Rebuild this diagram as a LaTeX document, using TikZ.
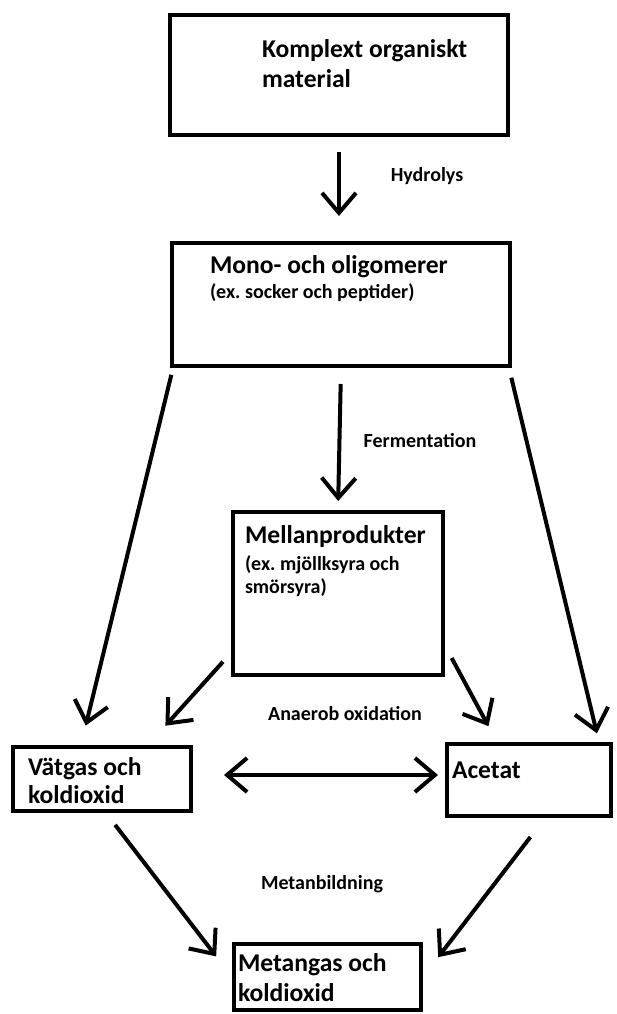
\documentclass[tikz,border=0pt]{standalone}
\usepackage{fontspec}
\setmainfont{Carlito}
\usetikzlibrary{arrows.meta,positioning}

\begin{document}
\begin{tikzpicture}[x=1pt,y=-1pt,->,>={Straight Barb[length=20pt,width=34pt]},line width=4pt,
                    stage/.style={draw,rectangle,line width=4pt,inner sep=0pt},
                    stage title/.style={inner sep=0pt,align=left,font=\bfseries\fontsize{25.6}{29}\selectfont},
                    stage note/.style={inner sep=0pt,align=left,font=\bfseries\fontsize{20}{23}\selectfont},
                    step label/.style={inner sep=0pt,font=\bfseries\fontsize{20}{24}\selectfont}]
  \useasboundingbox (0,0) rectangle (617,1014);

  % boxes
  \node[stage,minimum width=338pt,minimum height=120pt] (komplex) at (339,75) {};
  \node[stage,minimum width=338pt,minimum height=123pt] (mono) at (341,304.5) {};
  \node[stage,minimum width=210pt,minimum height=163pt] (mellan) at (338,593.5) {};
  \node[stage,minimum width=178pt,minimum height=64pt] (vatgas) at (102,779) {};
  \node[stage,minimum width=164pt,minimum height=72pt] (acetat) at (529,780) {};
  \node[stage,minimum width=187pt,minimum height=66pt] (metan) at (327.5,977) {};

  % texts in the boxes (base = last line)
  \node[stage title,below right=75pt and 92pt of komplex.north west,anchor=base west] (komplextxt) {Komplext organiskt\\[1pt]material};
  \node[stage title,below right=32pt and 38pt of mono.north west,anchor=base west] (monotxt) {Mono- och oligomerer};
  \node[stage note,below right=57pt and 38pt of mono.north west,anchor=base west] (mononote) {(ex.\ socker och peptider)};
  \node[stage title,below right=33pt and 12pt of mellan.north west,anchor=base west] (mellantxt) {Mellanprodukter};
  \node[stage note,below right=83pt and 12pt of mellan.north west,anchor=base west] (mellannote) {(ex.\ mjöllksyra och\\smörsyra)};
  \node[stage title,below right=58pt and 15pt of vatgas.north west,anchor=base west] (vatgastxt) {Vätgas och\\[-1pt]koldioxid};
  \node[stage title,below right=36pt and 5pt of acetat.north west,anchor=base west] (acetattxt) {Acetat};
  \node[stage title,below right=59pt and 4pt of metan.north west,anchor=base west] (metantxt) {Metangas och\\[1pt]koldioxid};

  % step labels
  \node[step label] (hydrolys) at (427,176) {Hydrolys};
  \node[step label] (fermentation) at (420,441) {Fermentation};
  \node[step label] (anaerob) at (345,714) {Anaerob oxidation};
  \node[step label] (metanbildning) at (322,884) {Metanbildning};

\path
    (komplex.south) edge[shorten <=15pt,shorten >=25pt] (komplex.south |- mono.north)
    (mono.south) edge[shorten <=16pt,shorten >=9pt] (mellan.north)
    ([xshift=3pt]mono.south west) edge[shorten <=7pt,shorten >=20pt] ([xshift=70pt]vatgas.north west)
    ([xshift=-3pt]mono.south east) edge[shorten <=10pt,shorten >=9pt] ([xshift=-14pt]acetat.north east)
    (mellan.209) edge[shorten <=12pt,shorten >=26pt] ([xshift=137pt]vatgas.north west)
    (mellan.-26) edge[shorten <=14pt,shorten >=18pt] ([xshift=52pt]acetat.north west)
    ([yshift=4pt]vatgas.east) edge[<->,shorten <=31pt,shorten >=7pt] ([yshift=5pt]acetat.west)
    ([xshift=4pt]vatgas.south) edge[shorten <=15pt,shorten >=26pt] (metan.west)
    ([xshift=16pt]acetat.south) edge[shorten <=24pt,shorten >=25pt] (metan.east);
\end{tikzpicture}
\end{document}
